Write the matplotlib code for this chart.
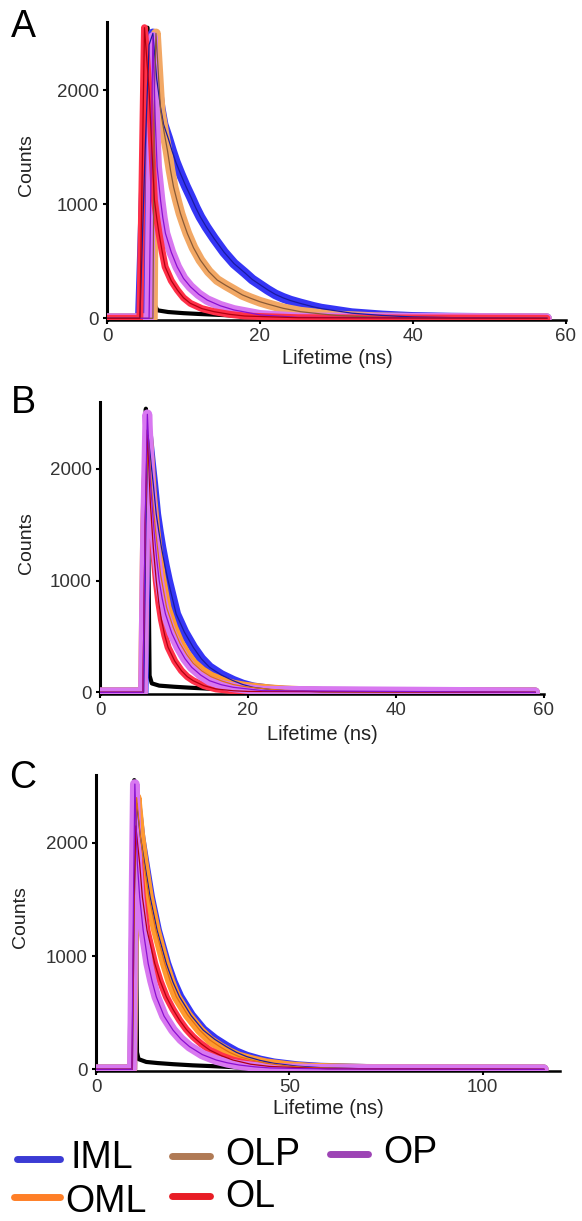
import matplotlib
matplotlib.use("Agg")
import matplotlib.pyplot as plt
from matplotlib.lines import Line2D

plt.rcParams['font.family'] = ['Liberation Sans', 'DejaVu Sans']

# ---------------- data ----------------
# Panel A
A_t_IRF = [0, 4.4, 4.9, 5.3, 5.7, 6.0, 6.2, 6.6, 8, 10, 12, 14, 16, 18, 20, 22, 57.5]
A_IRF   = [0, 0, 2000, 2550, 1800, 900, 120, 70, 55, 45, 38, 32, 26, 18, 10, 0, 0]
A_t_IML = [0, 4.3, 5.0, 5.5, 6.0, 6.5, 7.0, 7.4, 8.0, 8.5, 9.0, 9.6, 10.3, 11, 11.6, 12.2, 13, 14, 15.3, 16.6,
           18, 19, 20, 21, 22, 23, 24, 25.3, 27, 28, 30, 32, 34, 36, 38, 40, 45, 50, 57.5]
A_IML   = [0, 0, 1500, 2400, 2500, 2100, 1850, 1700, 1580, 1470, 1370, 1270, 1160, 1060, 970, 890, 800, 700, 580, 480,
           400, 340, 295, 250, 210, 180, 155, 130, 100, 85, 65, 45, 35, 25, 18, 12, 6, 3, 0]
A_t_OLP = [0, 6.0, 6.2, 6.4, 7.0, 7.5, 7.9, 8.3, 8.7, 9.2, 9.6, 10.0, 10.5, 11.3, 12.2, 13.3, 14.4, 15.5, 16.6,
           17.7, 18.8, 20, 21, 23, 25.3, 28, 30, 35, 40, 57.5]
A_OLP   = [0, 0, 2000, 2500, 1825, 1620, 1474, 1300, 1153, 1020, 920, 840, 745, 620, 511, 410, 336, 290, 248,
           205, 175, 145, 125, 88, 58, 38, 25, 10, 4, 0]
A_t_OP  = [0, 5.5, 5.8, 6.0, 6.3, 6.55, 7.0, 7.3, 7.64, 8.4, 9.17, 10.0, 10.9, 12.0, 13.1, 14.8, 16.6, 20, 25, 57.5]
A_OP    = [0, 0, 1500, 2470, 1750, 1330, 1036, 880, 745, 580, 452, 350, 277, 210, 160, 110, 73, 30, 8, 0]
A_t_OL  = [0, 4.3, 4.9, 5.5, 6.0, 6.2, 6.5, 6.8, 7.2, 7.6, 8.4, 9.2, 10.0, 10.9, 12.4, 14, 16, 18, 25, 57.5]
A_OL    = [0, 0, 2550, 2000, 1300, 1036, 880, 745, 590, 452, 330, 248, 180, 131, 85, 58, 35, 20, 5, 0]

# Panel B
B_t_IRF = [0, 5.5, 5.9, 6.2, 6.5, 6.7, 7.0, 8, 10, 12, 14, 16, 18, 20, 58.8]
B_IRF   = [0, 0, 1800, 2540, 1500, 150, 80, 60, 50, 42, 35, 28, 18, 8, 0]
B_t_IML = [0, 5.9, 6.2, 6.5, 6.9, 7.2, 7.6, 7.95, 8.3, 8.75, 9.2, 9.75, 10.3, 11.4, 12.6, 13.7, 14.8, 16.4, 18,
           19.3, 20.7, 23, 25, 30, 58.8]
B_IML   = [0, 0, 1500, 2300, 2050, 1865, 1597, 1440, 1298, 1140, 1000, 850, 701, 540, 403, 300, 224, 155, 104,
           70, 45, 25, 15, 5, 0]
B_t_OML = [0, 5.8, 6.1, 6.5, 7.0, 7.5, 8.2, 9.0, 9.9, 10.8, 11.7, 12.6, 13.8, 15, 16.5, 18, 19.5, 21, 23, 25, 30, 58.8]
B_OML   = [0, 0, 1500, 2300, 1800, 1450, 1050, 760, 580, 440, 340, 260, 190, 140, 100, 70, 52, 40, 27, 18, 5, 0]
B_t_OL  = [0, 5.8, 6.1, 6.4, 6.8, 7.2, 7.6, 7.95, 8.3, 8.75, 9.2, 10.1, 11, 11.8, 12.6, 14, 15.7, 18, 20, 58.8]
B_OL    = [0, 0, 1500, 2350, 1700, 1300, 1000, 800, 650, 510, 403, 280, 194, 140, 104, 60, 30, 14, 8, 0]
B_t_OP  = [0, 5.8, 6.1, 6.4, 6.8, 7.3, 7.65, 8.0, 8.4, 8.85, 9.7, 10.6, 11.5, 12.4, 13.6, 14.8, 16.4, 18, 22, 58.8]
B_OP    = [0, 0, 1500, 2490, 1895, 1448, 1200, 1000, 840, 701, 530, 403, 300, 224, 155, 104, 68, 45, 15, 0]

# Panel C
C_t_IRF = [0, 8.8, 9.4, 9.9, 10.3, 10.6, 11, 13, 16, 20, 25, 30, 35, 38, 42, 115.8]
C_IRF   = [0, 0, 1500, 2555, 1500, 150, 90, 65, 55, 45, 35, 28, 20, 12, 0, 0]
C_t_IML = [0, 9.4, 9.9, 10.5, 11.5, 12.6, 14, 15.8, 18.2, 19.9, 21.6, 24.6, 27.7, 30.7, 33.7, 36.3, 39, 42.5, 46,
           52, 58, 70, 115.8]
C_IML   = [0, 0, 1500, 2350, 2050, 1815, 1521, 1228, 934, 770, 640, 475, 347, 265, 200, 150, 112, 78, 53,
           28, 15, 4, 0]
C_t_OML = [0, 9.4, 9.9, 10.5, 11.4, 12.4, 13.7, 15.5, 17.8, 19.2, 20.8, 23.7, 26.8, 29.4, 32, 34.5, 37, 40.5, 44,
           50, 55, 70, 115.8]
C_OML   = [0, 0, 1500, 2400, 2080, 1815, 1521, 1228, 934, 780, 640, 480, 347, 260, 200, 150, 112, 80, 53,
           28, 15, 4, 0]
C_t_OL  = [0, 9.3, 9.8, 10.3, 10.8, 11.3, 12.0, 13.2, 15.2, 16.6, 18.2, 19.9, 21.6, 23.3, 25.1, 27.2, 29.4,
           32.4, 35.4, 40, 45, 60, 115.8]
C_OL    = [0, 0, 1500, 2150, 1980, 1815, 1521, 1228, 934, 780, 640, 530, 435, 355, 288, 225, 170, 120, 82,
           45, 25, 5, 0]
C_t_OP  = [0, 9.3, 9.7, 10.05, 10.4, 10.7, 11.3, 12.2, 13.5, 14.5, 15.6, 17.6, 19.9, 22, 24.2, 27.5, 31.1, 34,
           37, 41, 45, 60, 115.8]
C_OP    = [0, 0, 1500, 2520, 2100, 1815, 1521, 1228, 934, 780, 640, 470, 347, 265, 200, 130, 82, 57,
           38, 22, 12, 3, 0]

legend_labels = ['IML', 'OML', 'OLP', 'OL', 'OP']
legend_colors = ['#3b3bd4', '#ff7f27', '#b07a55', '#e81d25', '#9d44b5']

# band colour, centre-line colour, band width
band = {'IML': ('#3535f5', '#1a1aa0', 7), 'OML': ('#ff9a30', '#e07010', 7),
        'OLP': ('#f2a865', '#8a5a35', 7), 'OL': ('#ff3048', '#b00010', 5),
        'OP': ('#d878f0', '#8a10d0', 7)}

panels = [
    ('A', [107, 566, 22, 320], (0, 60), [0, 20, 40, 60],
     [('IRF', A_t_IRF, A_IRF), ('IML', A_t_IML, A_IML), ('OLP', A_t_OLP, A_OLP),
      ('OP', A_t_OP, A_OP), ('OL', A_t_OL, A_OL)],
     (11, 27), (26, 165), (337, 359)),
    ('B', [100, 544, 402, 694], (0, 60), [0, 20, 40, 60],
     [('IRF', B_t_IRF, B_IRF), ('IML', B_t_IML, B_IML), ('OML', B_t_OML, B_OML),
      ('OL', B_t_OL, B_OL), ('OP', B_t_OP, B_OP)],
     (11, 403), (27, 543), (322, 734)),
    ('C', [96, 560, 775, 1071], (0, 120), [0, 50, 100],
     [('IRF', C_t_IRF, C_IRF), ('IML', C_t_IML, C_IML), ('OML', C_t_OML, C_OML),
      ('OL', C_t_OL, C_OL), ('OP', C_t_OP, C_OP)],
     (9, 778), (21, 917), (328, 1108)),
]

W, H = 582, 1221
fig = plt.figure(figsize=(W / 100, H / 100), dpi=100)

for letter, (x0, x1, ytop, ybot), xlim, xt, series, lpos, ylpos, xlpos in panels:
    ax = fig.add_axes([x0 / W, 1 - ybot / H, (x1 - x0) / W, (ybot - ytop) / H])
    for name, t, y in series:
        if name == 'IRF':
            ax.plot(t, y, color='black', lw=3, solid_joinstyle='round', zorder=2)
        else:
            bc, lc, bw = band[name]
            ax.plot(t, y, color=bc, lw=bw, solid_joinstyle='round', solid_capstyle='round', zorder=3)
            ax.plot(t, y, color=lc, lw=0.9, zorder=4)
    ax.set_xlim(*xlim)
    ax.set_ylim(-15, 2600)
    ax.set_xticks(xt)
    ax.set_yticks([0, 1000, 2000])
    for s in ['top', 'right']:
        ax.spines[s].set_visible(False)
    ax.spines['left'].set_linewidth(2.2)
    ax.spines['bottom'].set_linewidth(1.8)
    ax.tick_params(direction='out', length=3, width=1.5, labelsize=13.5,
                   labelcolor='#333333', pad=3)
    fig.text(lpos[0] / W, 1 - lpos[1] / H, letter, fontsize=27, ha='left', va='center')
    fig.text(ylpos[0] / W, 1 - ylpos[1] / H, 'Counts', fontsize=14, rotation=90,
             ha='center', va='center', color='#222222')
    fig.text(xlpos[0] / W, 1 - xlpos[1] / H, 'Lifetime (ns)', fontsize=14.5,
             ha='center', va='center', color='#222222')

# legend (manual layout)
leg_pos = [((17, 60), 1159, 71, 1158), ((14, 60), 1197, 65, 1202),
           ((172, 210), 1156, 225, 1155), ((172, 210), 1196, 225, 1197),
           ((330, 368), 1154, 383, 1153)]
for lab, col, ((lx0, lx1), ly, tx, ty) in zip(legend_labels, legend_colors, leg_pos):
    fig.add_artist(Line2D([lx0 / W, lx1 / W], [1 - ly / H, 1 - ly / H], color=col,
                          lw=5, solid_capstyle='round', transform=fig.transFigure))
    fig.text(tx / W, 1 - ty / H, lab, fontsize=27, ha='left', va='center')

fig.savefig('out.png', dpi=100)
